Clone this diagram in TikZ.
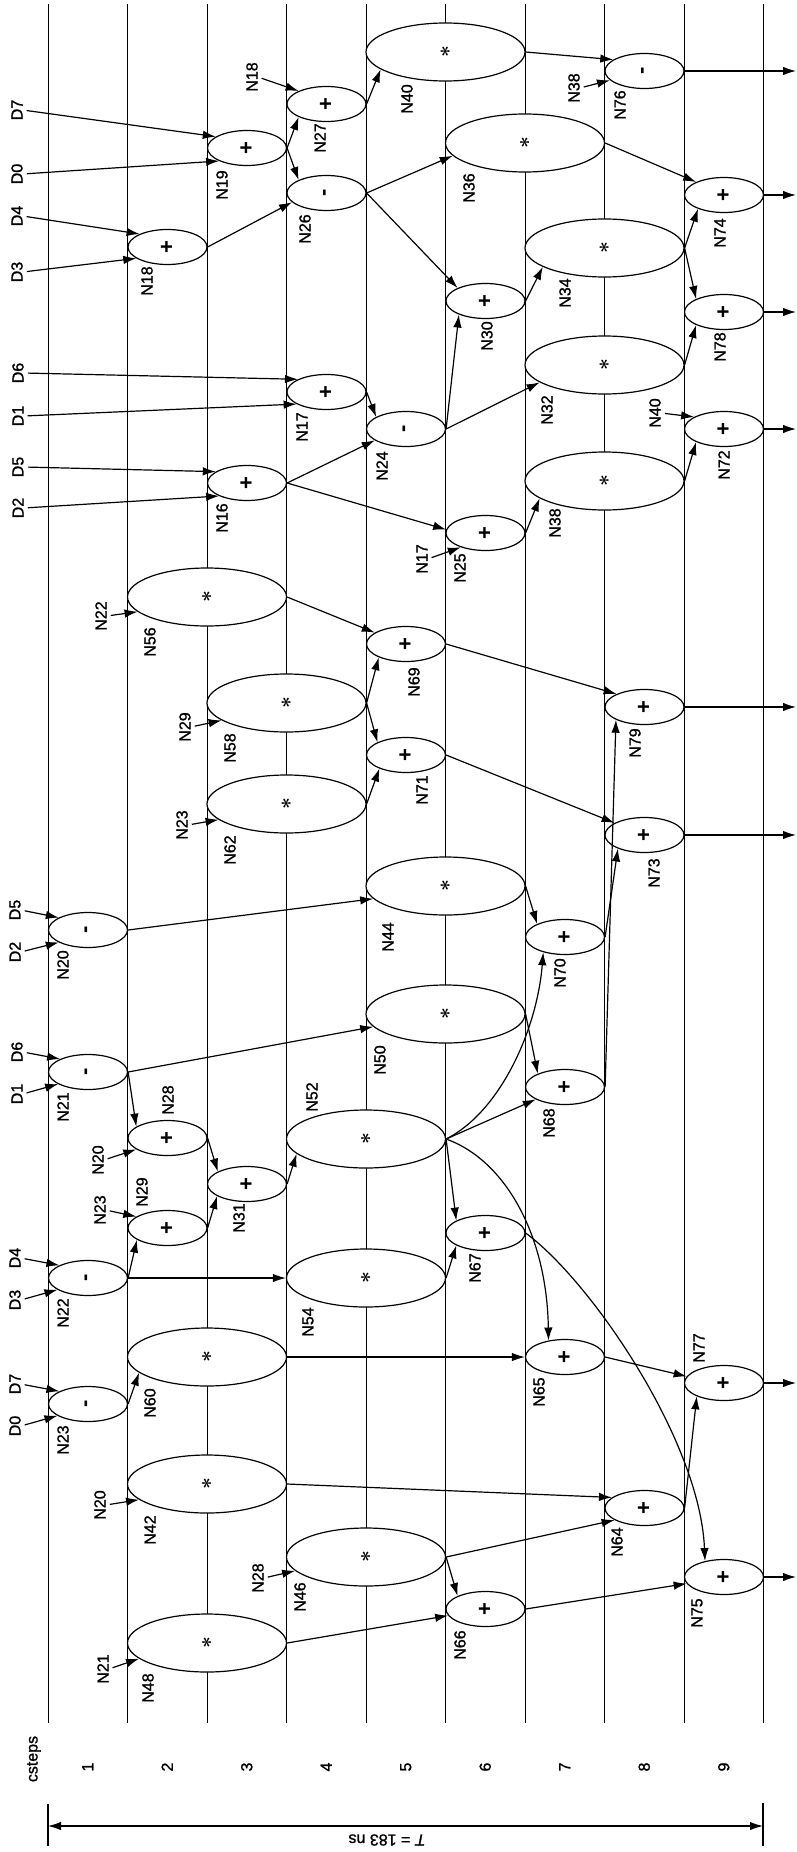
\documentclass[tikz,border=0pt]{standalone}
\usepackage{fontspec}
\setmainfont{Liberation Sans}
\newfontfamily\lblfam[FakeBold=1.2]{Liberation Sans}
\usetikzlibrary{shapes.geometric,arrows.meta}
\newcommand\lblfont{\lblfam\fontsize{16}{18}\selectfont}
\newcommand\opfont{\fontsize{22}{24}\selectfont\bfseries}
\newcommand\mulfont{\fontsize{20}{22}\selectfont\boldmath}
\begin{document}
\begin{tikzpicture}[x=1pt,y=-1pt,
  colline/.style={line width=1pt},
  op/.style={ellipse,draw,fill=white,line width=1.2pt,minimum width=79pt,minimum height=35pt,inner sep=0pt},
  mul/.style={op,minimum width=159pt,minimum height=58pt},
  sym/.style={rotate=90,font=\opfont,inner sep=0pt},
  lbl/.style={rotate=90,font=\lblfont,inner sep=0pt},
  arr/.style={-{Latex[length=13pt,width=8.5pt]},line width=1.2pt},
  tick/.style={line width=1.2pt}]
\useasboundingbox (0,0) rectangle (797,1852);
% column lines
\foreach \i in {0,...,9} \draw[colline] ({48+79.5*\i},4) -- ({48+79.5*\i},1723);
% adders / subtractors
\foreach \n/\x/\y/\s in {N18/167.5/247/+, N19/247/148/+, N27/326.5/104/+, N26/326.5/193/-,
  N76/644.5/71/-, N74/724/195/+, N30/485.5/301/+, N78/724/312/+, N17/326.5/392/+,
  N16/247/483/+, N24/406/429/-, N72/724/429/+, N25/485.5/533/+, N69/406/644/+,
  N71/406/755/+, N79/644.5/707/+, N73/644.5/835/+, N20/88/930/-, N70/565/937/+,
  N21/88/1072/-, N68/565/1087/+, N28/167.5/1138/+, N31/247/1184/+, N29/167.5/1228/+,
  N67/485.5/1233/+, N22/88/1278/-, N65/565/1357/+, N77/724/1383/+, N23/88/1404/-,
  N64/644.5/1508/+, N75/724/1577/+, N66/485.5/1609/+}
  {\node[op] (\n) at (\x,\y) {}; \node[sym] (\n t) at (\n.center) {\s};}
% multipliers
\foreach \n/\x/\y in {N40/445.5/52, N36/525/143, N34/604.5/248, N32/604.5/365, N38/604.5/481,
  N56/207/597, N58/286.5/703, N62/286.5/804, N44/445.5/886, N50/445.5/1014, N52/366/1139,
  N54/366/1278, N60/207/1357, N42/207/1484, N46/366/1557, N48/207/1643}
  {\node[mul] (\n) at (\x,\y) {}; \node[sym,font=\mulfont] (\n t) at (\n.center) {$\ast$};}
% node names
\foreach \n/\x/\y in {N18/147/281, N19/222/185, N27/320/138, N26/305/229, N40/407/99,
  N76/620/105, N36/469/188, N74/720/233, N34/565/293, N30/487/336, N78/720/347, N32/547/410,
  N72/724/465, N38/555/523, N25/460/568, N17/302/427, N24/382/466, N16/222/518, N56/150/642,
  N58/230/748, N62/230/850, N69/414/682, N79/635/743, N71/422/790, N73/654/873, N44/388/937,
  N20/63/965, N70/560/973, N50/380/1060, N21/63/1107, N28/168/1100, N52/312/1097,
  N68/549/1123, N29/142/1192, N31/239/1218, N67/475/1268, N22/63/1313, N54/308/1322,
  N65/539/1392, N77/699/1348, N60/150/1403, N23/63/1440, N42/150/1530, N64/617/1542,
  N46/300/1597, N75/697/1613, N66/460/1645, N48/148/1688}
  \node[lbl] (L\n) at (\x,\y) {\n};
% input labels with arrows
\foreach \k/\t/\x/\y/\tg in {1/D7/17/110/N19.160, 2/D0/17/174/N19.205, 3/D4/17/216/N18.155,
  4/D3/17/272/N18.200, 5/D6/18/373/N17.156, 6/D1/18/416/N17.202, 7/D5/18/467/N16.160,
  8/D2/18/508/N16.205, 9/D5/15/910/N20.157, 10/D2/15/952/N20.203, 11/D6/17/1052/N21.155,
  12/D1/17/1094/N21.202, 13/D4/15/1258/N22.156, 14/D3/15/1300/N22.201, 15/D7/15/1384/N23.156,
  16/D0/15/1426/N23.201, 17/N18/252/77/N27.155, 18/N38/574/88/N76.195, 19/N40/655/413/N72.158,
  20/N17/422/559/N25.210, 21/N22/101/616/N56.192, 22/N29/185/727/N58.195, 23/N23/182/825/N62.193,
  24/N20/98/1160/N28.200, 25/N23/100/1210/N29.160, 26/N20/100/1505/N42.193,
  27/N21/103/1669/N48.193, 28/N28/258/1578/N46.191}
  {\node[lbl] (I\k) at (\x,\y) {\t}; \draw[arr,shorten <=4pt] (I\k.south) -- (\tg);}
% connectors
\foreach \a/\b in {N18.east/N26.195, N19.east/N27.205, N19.east/N26.155, N27.east/N40.195,
  N26.east/N36.190, N26.east/N30.155, N40.east/N76.160, N36.east/N74.155, N34.east/N74.208,
  N34.east/N78.155, N30.east/N34.197, N24.east/N30.207, N24.east/N32.195, N16.east/N25.175,
  N25.east/N38.195, N32.east/N78.205, N38.east/N72.205, N17.east/N24.158, N16.east/N24.200,
  N56.east/N69.160, N58.east/N69.206, N58.east/N71.156, N62.east/N71.207, N20.east/N44.190,
  N69.east/N79.155, N71.east/N73.158, N44.east/N70.155, N70.east/N73.207, N68.east/N79.204,
  N21.east/N50.190, N21.east/N28.160, N28.east/N31.157, N29.east/N31.202, N31.east/N52.192,
  N52.east/N68.203, N50.east/N68.154, N52.east/N67.157, N54.east/N67.203, N60.east/N65.west,
  N22.east/N54.west, N22.east/N29.201, N23.east/N60.193, N42.east/N64.162, N46.east/N64.202,
  N46.east/N66.155, N65.east/N77.170, N64.east/N77.206, N48.east/N66.190, N66.east/N75.190}
  \draw[arr] (\a) -- (\b);
\draw[arr] (N52.east) .. controls (500,1112) and (537,1030) .. (N70.215);
\draw[arr] (N52.east) .. controls (505,1160) and (547,1235) .. (N65.135);
\draw[arr] (N67.east) .. controls (590,1280) and (700,1440) .. (N75.140);
% outputs
\coordinate (oedge) at (796,0);
\foreach \n in {N76,N74,N78,N72,N79,N73,N77,N75}
  {\coordinate (o\n) at (\n.east -| oedge); \draw[arr] (\n.east) -- (o\n);}
% csteps axis
\node[lbl] (cst) at (34,1759) {csteps};
\foreach \i in {1,...,9} \node[lbl] (c\i) at ({8.25+79.5*\i},1767) {\i};
% total time
\coordinate (tl) at (48,1826); \coordinate (tr) at (763,1826);
\coordinate (tla) at (48,1804); \coordinate (tlb) at (48,1846);
\coordinate (tra) at (763,1803); \coordinate (trb) at (763,1846);
\draw[tick] (tla) -- (tlb);
\draw[tick] (tra) -- (trb);
\draw[{Latex[length=13pt,width=8.5pt]}-{Latex[length=13pt,width=8.5pt]},line width=1.2pt] (tl) -- (tr);
\node[font=\lblfont,rotate=180,inner sep=0pt] (tlabel) at (387,1840) {\textit{T} = 183 ns};
\end{tikzpicture}
\end{document}
